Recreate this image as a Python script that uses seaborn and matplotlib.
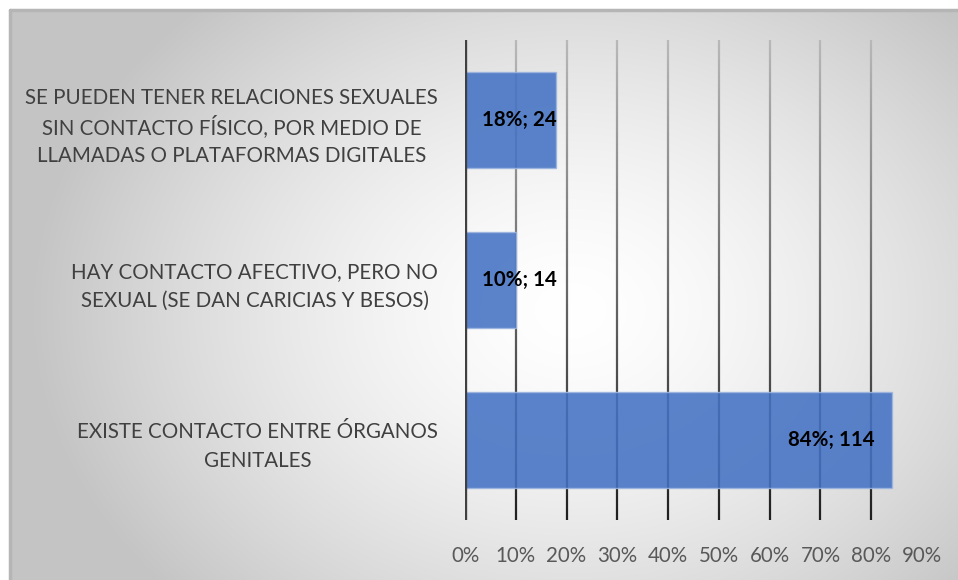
import numpy as np
import pandas as pd
import matplotlib
matplotlib.use("Agg")
import matplotlib.pyplot as plt
from matplotlib.collections import LineCollection
import seaborn as sns

# Survey answers (multiple responses allowed)
categories = [
    "SE PUEDEN TENER RELACIONES SEXUALES\nSIN CONTACTO FÍSICO, POR MEDIO DE\nLLAMADAS O PLATAFORMAS DIGITALES",
    "HAY CONTACTO AFECTIVO, PERO NO\nSEXUAL (SE DAN CARICIAS Y BESOS)",
    "EXISTE CONTACTO ENTRE ÓRGANOS\nGENITALES",
]
percentages = [18, 10, 84]
counts = [24, 14, 114]
x_ticks = [0, 10, 20, 30, 40, 50, 60, 70, 80, 90]
x_tick_labels = [f"{v}%" for v in x_ticks]

sns.set_theme(style="white")
plt.rcParams["font.family"] = ["Lato", "DejaVu Sans"]

W, H = 958, 580
fig = plt.figure(figsize=(W / 100, H / 100), dpi=100)
fig.patch.set_facecolor("white")

# Chart area with a soft radial gradient
bg = fig.add_axes([10 / W, 0, (W - 10) / W, (H - 10) / H], zorder=0)
gy, gx = np.mgrid[0:H - 10, 0:W - 10]
cx, cy = 560, 300
t = np.sqrt(((gx - cx) / 540.0) ** 2 + ((gy - cy) / 420.0) ** 2)
t = np.clip(t, 0, 1) ** 1.5
shade = 1.0 - 0.23 * t
bg.imshow(np.dstack([shade, shade, shade]), aspect="auto", extent=[0, 1, 0, 1],
          interpolation="bilinear")
bg.set_xlim(0, 1)
bg.set_ylim(0, 1)
bg.axis("off")
bg.plot([0, 1], [1, 1], color="#b5b5b5", lw=2.5, transform=bg.transAxes, clip_on=False)
bg.plot([0, 0], [0, 1], color="#b5b5b5", lw=2.5, transform=bg.transAxes, clip_on=False)

ax = fig.add_axes([465 / W, (H - 520) / H, (922 - 465) / W, 480 / H], zorder=1)
ax.patch.set_alpha(0)

df = pd.DataFrame({"cat": categories, "pct": percentages, "n": counts})

# Vertical gridlines fading from light gray at top to near black at bottom
n_seg = 120
ys = np.linspace(-0.5, 2.5, n_seg + 1)
for gxv in x_ticks[1:-1]:
    segs = [[(gxv, ys[i]), (gxv, ys[i + 1])] for i in range(n_seg)]
    f = (ys[:-1] + 0.5) / 3.0  # 0 at top, 1 at bottom (axis inverted)
    g0 = np.array([0.72, 0.72, 0.72])
    g1 = np.array([0.12, 0.12, 0.12])
    cols = [tuple(g0 + (g1 - g0) * fi) for fi in f]
    ax.add_collection(LineCollection(segs, colors=cols, linewidths=1.6, zorder=1))

sns.barplot(data=df, x="pct", y="cat", orient="h", color="#4472C4", width=0.6,
            saturation=1, ax=ax, zorder=2, alpha=0.88,
            edgecolor="#9cb4df", linewidth=1.0)

ax.axvline(0, color="#404040", lw=2.4, zorder=3)

ax.set_xlim(0, 90)
ax.set_ylim(2.5, -0.5)
ax.set_xticks(x_ticks)
ax.set_xticklabels(x_tick_labels, fontsize=14.8, color="#595959")
ax.tick_params(axis="x", length=0, pad=19)
ax.set_yticks(range(len(categories)))
ax.set_yticklabels([])
ax.tick_params(axis="y", length=0)
ax.set_xlabel("")
ax.set_ylabel("")
for s in ax.spines.values():
    s.set_visible(False)
ax.grid(False)

# Category labels: block right-aligned next to the axis, lines centred
renderer = fig.canvas.get_renderer()
right_px = 438
line_step = 29
for i, cat in enumerate(categories):
    lines = cat.split("\n")
    yc = ax.transData.transform((0, i))[1] - 6.5
    texts = []
    for j, line in enumerate(lines):
        ypx = yc + ((len(lines) - 1) / 2 - j) * line_step
        tx = fig.text(0, ypx / H, line, ha="center", va="center",
                      fontsize=14.8, color="#404040")
        texts.append(tx)
    widths = [tx.get_window_extent(renderer).width for tx in texts]
    xc = right_px - max(widths) / 2
    for tx in texts:
        tx.set_x(xc / W)

# Value labels inside the bars
for i, (p, n) in enumerate(zip(percentages, counts)):
    txt = f"{p}%; {n}"
    if p >= 30:
        ax.annotate(txt, (p, i), xytext=(-12, 0), textcoords="offset points",
                    ha="right", va="center", fontsize=14.8, fontweight="bold",
                    color="black", zorder=4)
    else:
        ax.annotate(txt, (0, i), xytext=(12, 0), textcoords="offset points",
                    ha="left", va="center", fontsize=14.8, fontweight="bold",
                    color="black", zorder=4)

fig.savefig("out.png", dpi=100)
